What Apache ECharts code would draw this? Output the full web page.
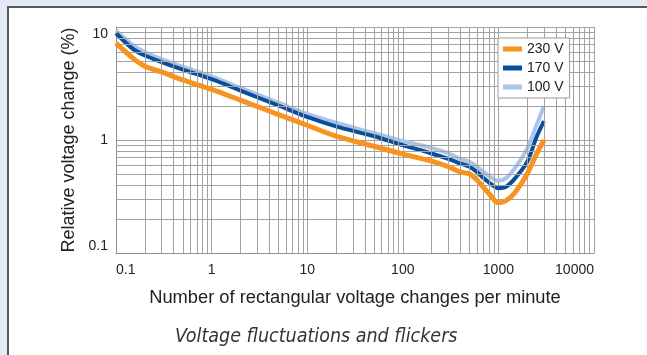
<!DOCTYPE html>
<html>
<head>
<meta charset="utf-8">
<script src="https://cdn.jsdelivr.net/npm/echarts@6/dist/echarts.min.js"></script>
<style>
  html, body { margin: 0; padding: 0; background: #e4eaf5; }
  #chart { width: 647px; height: 355px; }
</style>
</head>
<body>
<div id="chart"></div>
<script>
// changes per minute (x, log)
var rates = [0.1, 0.15, 0.2, 0.3, 0.5, 1, 2, 3, 5, 10, 20, 50, 100, 200, 300, 400, 500, 600, 700, 800, 1000, 1200, 1500, 2000, 2500, 3000];
// relative voltage change (%) per supply voltage
var v230 = [7.2, 5.3, 4.5, 4.0, 3.4, 2.8, 2.25, 1.98, 1.68, 1.35, 1.08, 0.88, 0.75, 0.65, 0.58, 0.52, 0.5, 0.44, 0.38, 0.335, 0.278, 0.29, 0.345, 0.5, 0.75, 1.0];
var v170 = [8.8, 6.4, 5.6, 4.9, 4.2, 3.45, 2.74, 2.39, 2.02, 1.6, 1.32, 1.08, 0.9, 0.76, 0.68, 0.62, 0.58, 0.52, 0.46, 0.42, 0.375, 0.385, 0.46, 0.64, 1.06, 1.47];
var v100 = [9.3, 6.9, 6.0, 5.2, 4.45, 3.65, 2.9, 2.53, 2.14, 1.7, 1.42, 1.15, 0.98, 0.85, 0.76, 0.68, 0.64, 0.58, 0.52, 0.48, 0.435, 0.46, 0.57, 0.84, 1.35, 2.0];
var names = ["230 V", "170 V", "100 V"];
var colors = ["#f7931e", "#0a4d9a", "#a9c5ea"];

// minor log grid lines (2..9 of each decade)
var xMinor = [];
var yMinor = [];
[0.1, 1, 10, 100, 1000].forEach(function(d) {
  for (var k = 2; k <= 9; k++) xMinor.push({ xAxis: +(k * d).toPrecision(3) });
});
[0.1, 1].forEach(function(d) {
  for (var k = 2; k <= 9; k++) yMinor.push({ yAxis: +(k * d).toPrecision(3) });
});

function pairs(ys) {
  return rates.map(function(x, i) { return [x, ys[i]]; });
}

var gridColor = "#a2a2a2";
var font = "'Liberation Sans', Arial, sans-serif";

var myChart = echarts.init(document.getElementById("chart"));
var option = {
  animation: false,
  backgroundColor: "#e4eaf5",
  textStyle: { fontFamily: font },
  graphic: [
    {
      type: "rect",
      z: -10,
      shape: { x: 8, y: 7, width: 700, height: 400 },
      style: { fill: "#fff", stroke: "#5a5a5a", lineWidth: 2 }
    }
  ],
  title: {
    text: "Voltage fluctuations and flickers",
    left: 170,
    top: 322,
    textStyle: {
      fontFamily: "'Liberation Sans Narrow', 'DejaVu Sans Condensed', sans-serif",
      fontStyle: "italic",
      fontWeight: "normal",
      fontSize: 19.5,
      color: "#333"
    }
  },
  legend: {
    data: names,
    z: 20,
    orient: "vertical",
    left: 498,
    top: 38,
    backgroundColor: "#fff",
    borderColor: "#999",
    borderWidth: 1,
    borderRadius: 0,
    padding: [4, 6, 4, 5],
    itemGap: 5,
    itemWidth: 19,
    itemHeight: 5,
    icon: "rect",
    textStyle: { fontSize: 14, color: "#222", fontFamily: font }
  },
  grid: {
    left: 116,
    right: 53,
    top: 27,
    bottom: 102,
    containLabel: false
  },
  xAxis: {
    type: "log",
    logBase: 10,
    min: 0.1,
    max: 10000,
    name: "Number of rectangular voltage changes per minute",
    nameLocation: "middle",
    nameGap: 36,
    nameTextStyle: { fontSize: 18.3, color: "#222", fontFamily: font },
    axisTick: { show: false },
    axisLine: { lineStyle: { color: "#909090", width: 1 } },
    axisLabel: {
      fontSize: 14,
      color: "#222",
      margin: 10,
      alignMinLabel: "left",
      alignMaxLabel: "right",
      formatter: function(v) { return String(+v.toPrecision(3)); }
    },
    splitLine: { show: true, lineStyle: { color: gridColor, width: 1 } }
  },
  yAxis: {
    type: "log",
    logBase: 10,
    min: 0.1,
    max: 10,
    name: "Relative voltage change (%)",
    nameLocation: "middle",
    nameGap: 33,
    nameTextStyle: { fontSize: 18, color: "#222", fontFamily: font },
    axisTick: { show: false },
    axisLine: { lineStyle: { color: "#909090", width: 1 } },
    axisLabel: {
      fontSize: 14,
      color: "#222",
      margin: 8,
      verticalAlignMinLabel: "bottom",
      verticalAlignMaxLabel: "top",
      formatter: function(v) { return String(+v.toPrecision(3)); }
    },
    splitLine: { show: true, lineStyle: { color: gridColor, width: 1 } }
  },
  series: [
    {
      name: "grid",
      type: "line",
      data: [],
      z: 1,
      silent: true,
      markLine: {
        silent: true,
        symbol: "none",
        label: { show: false },
        lineStyle: { color: gridColor, width: 1, type: "solid" },
        emphasis: { disabled: true },
        data: xMinor.concat(yMinor)
      }
    },
    {
      name: names[2],
      type: "line",
      data: pairs(v100),
      smooth: 0.3,
      showSymbol: false,
      z: 3,
      lineStyle: { color: colors[2], width: 4 },
      itemStyle: { color: colors[2] }
    },
    {
      name: names[1],
      type: "line",
      data: pairs(v170),
      smooth: 0.3,
      showSymbol: false,
      z: 4,
      lineStyle: { color: colors[1], width: 4 },
      itemStyle: { color: colors[1] }
    },
    {
      name: names[0],
      type: "line",
      data: pairs(v230),
      smooth: 0.3,
      showSymbol: false,
      z: 5,
      lineStyle: { color: colors[0], width: 5 },
      itemStyle: { color: colors[0] }
    }
  ]
};
myChart.setOption(option);
</script>
</body>
</html>
